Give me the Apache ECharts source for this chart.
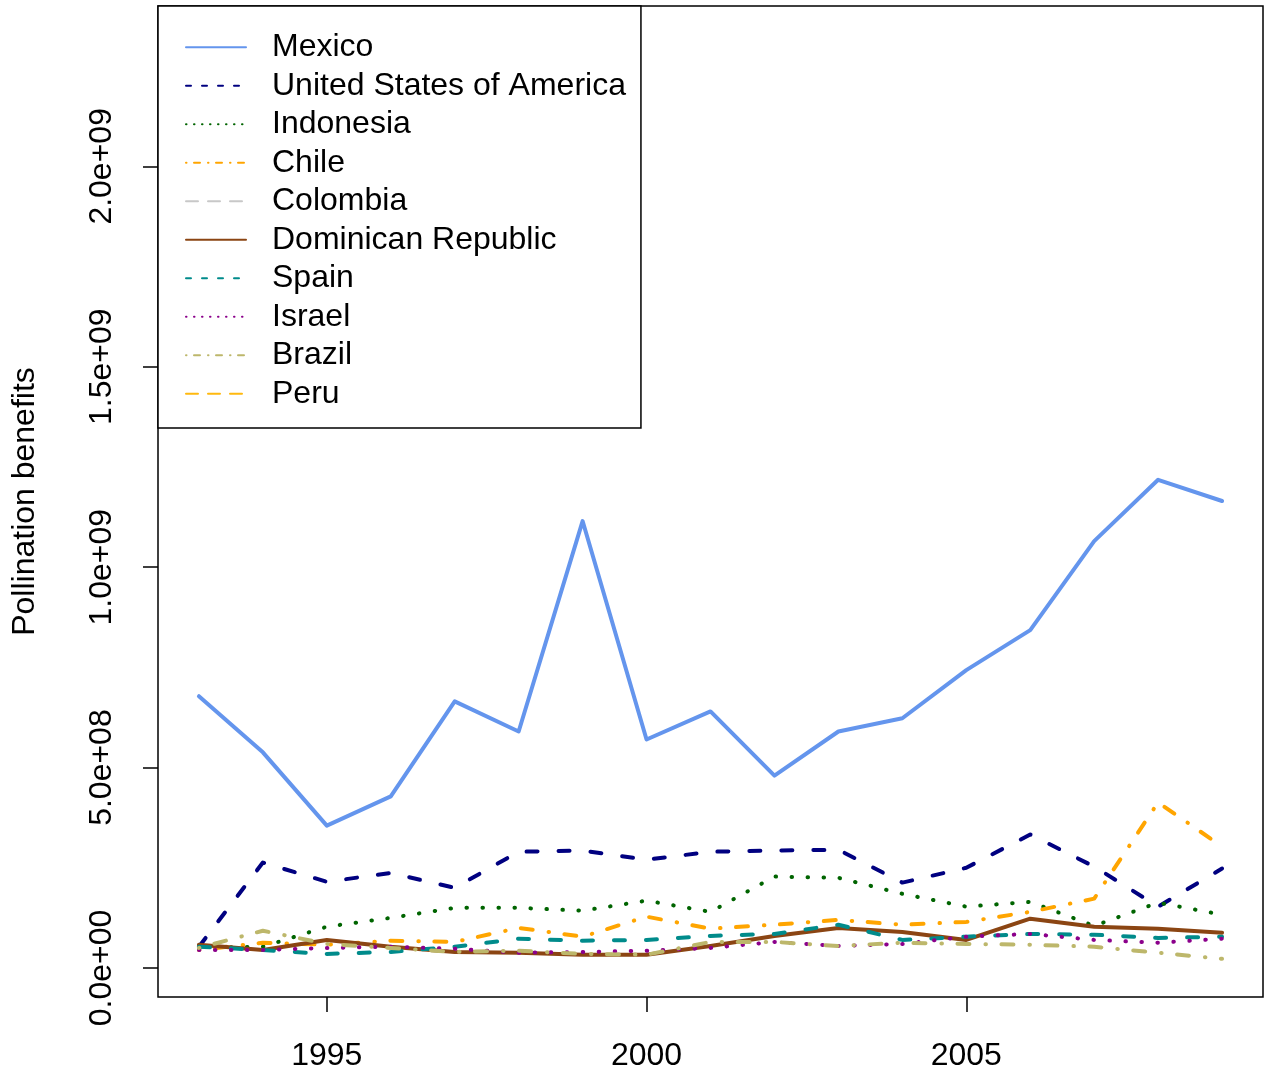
<!DOCTYPE html>
<html>
<head>
<meta charset="utf-8">
<script src="https://cdn.jsdelivr.net/npm/echarts@6/dist/echarts.min.js"></script>
<style>
  html, body { margin: 0; padding: 0; background: #fff; }
  #chart { width: 1271px; height: 1073px; }
</style>
</head>
<body>
<div id="chart"></div>
<script>
// Years on the x axis
const years = [1993, 1994, 1995, 1996, 1997, 1998, 1999, 2000, 2001, 2002, 2003, 2004, 2005, 2006, 2007, 2008, 2009];

// Pollination benefits per country and year
const mexico    = [6.78e8, 5.38e8, 3.55e8, 4.28e8, 6.65e8, 5.90e8, 11.15e8, 5.70e8, 6.40e8, 4.80e8, 5.90e8, 6.23e8, 7.43e8, 8.43e8, 10.65e8, 12.18e8, 11.65e8];
const usa       = [0.53e8, 2.63e8, 2.15e8, 2.37e8, 2.00e8, 2.90e8, 2.93e8, 2.70e8, 2.90e8, 2.93e8, 2.95e8, 2.13e8, 2.50e8, 3.33e8, 2.53e8, 1.53e8, 2.48e8];
const indonesia = [0.50e8, 0.53e8, 1.03e8, 1.25e8, 1.50e8, 1.50e8, 1.43e8, 1.68e8, 1.40e8, 2.28e8, 2.25e8, 1.85e8, 1.53e8, 1.65e8, 1.05e8, 1.63e8, 1.33e8];
const chile     = [0.45e8, 0.63e8, 0.58e8, 0.68e8, 0.65e8, 1.00e8, 0.78e8, 1.28e8, 0.98e8, 1.08e8, 1.20e8, 1.08e8, 1.15e8, 1.40e8, 1.73e8, 4.13e8, 3.03e8];
const colombia  = [null, null, null, null, null, null, null, null, null, null, null, null, null, null, null, null, null];
const dominican = [0.58e8, 0.45e8, 0.70e8, 0.53e8, 0.40e8, 0.38e8, 0.33e8, 0.33e8, 0.55e8, 0.80e8, 1.00e8, 0.90e8, 0.70e8, 1.23e8, 1.03e8, 0.98e8, 0.88e8];
const spain     = [0.53e8, 0.45e8, 0.35e8, 0.40e8, 0.53e8, 0.73e8, 0.68e8, 0.70e8, 0.80e8, 0.85e8, 1.08e8, 0.70e8, 0.78e8, 0.85e8, 0.83e8, 0.75e8, 0.78e8];
const israel    = [0.45e8, 0.45e8, 0.50e8, 0.53e8, 0.48e8, 0.38e8, 0.40e8, 0.43e8, 0.50e8, 0.65e8, 0.55e8, 0.60e8, 0.78e8, 0.85e8, 0.70e8, 0.63e8, 0.73e8];
const brazil    = [0.50e8, 0.93e8, 0.60e8, 0.50e8, 0.40e8, 0.43e8, 0.35e8, 0.33e8, 0.65e8, 0.65e8, 0.55e8, 0.63e8, 0.60e8, 0.58e8, 0.53e8, 0.38e8, 0.23e8];
const peru      = [null, null, null, null, null, null, null, null, null, null, null, null, null, null, null, null, null];

// Axis ticks and their labels
const xTicks = [1995, 2000, 2005];
const yTicks = [0, 5e8, 1e9, 1.5e9, 2e9];
const yTickLabels = ['0.0e+00', '5.0e+08', '1.0e+09', '1.5e+09', '2.0e+09'];

const FONT = 'Liberation Sans, Arial, Helvetica, sans-serif';
const FS = 32;

// Line styles: [name, values, colour, dash pattern in the plot, dash pattern in the legend]
const lineDefs = [
  ['Mexico', mexico, '#6495ED', 'solid', 'solid'],
  ['United States of America', usa, '#000080', [11, 21], [5, 11]],
  ['Indonesia', indonesia, '#006400', [0.5, 15.5], [0.5, 7.5]],
  ['Chile', chile, '#FFA500', [0.5, 15.5, 12, 16], [0.5, 7.5, 6, 8]],
  ['Colombia', colombia, '#C8C8C8', [24, 20], [12, 10]],
  ['Dominican Republic', dominican, '#8B4513', 'solid', 'solid'],
  ['Spain', spain, '#008B8B', [11, 21], [5, 11]],
  ['Israel', israel, '#8B008B', [0.5, 15.5], [0.5, 7.5]],
  ['Brazil', brazil, '#BDB76B', [0.5, 15.5, 12, 16], [0.5, 7.5, 6, 8]],
  ['Peru', peru, '#FFB90F', [24, 20], [12, 10]]
];

const series = lineDefs.map(function (d, i) {
  return {
    name: d[0],
    type: 'line',
    data: years.map(function (y, k) { return [y, d[1][k]]; }),
    symbol: 'none',
    connectNulls: false,
    animation: false,
    z: 2 + i,
    lineStyle: { color: d[2], width: 4, type: d[3], cap: 'round', join: 'round' },
    itemStyle: { color: d[2] }
  };
});

// Legend keys show only the line sample, no marker
const legendData = lineDefs.map(function (d) {
  return {
    name: d[0],
    itemStyle: { opacity: 0 },
    lineStyle: { width: 2, type: d[4], color: d[2] }
  };
});

const chart = echarts.init(document.getElementById('chart'), null, { renderer: 'canvas' });
chart.setOption({
  backgroundColor: '#ffffff',
  animation: false,
  textStyle: { fontFamily: FONT },
  grid: {
    left: 158, top: 6, right: 1271 - 1263, bottom: 1073 - 997,
    show: true, borderColor: '#000', borderWidth: 1.5, backgroundColor: 'transparent',
    containLabel: false
  },
  legend: {
    show: true,
    orient: 'vertical',
    left: 158, top: 6,
    itemWidth: 60, itemHeight: 20, itemGap: 0,
    padding: [22, 15, 15, 27],
    borderColor: '#000', borderWidth: 1.5,
    backgroundColor: '#fff',
    selectedMode: false,
    itemStyle: { opacity: 0 },
    data: legendData,
    textStyle: { fontFamily: FONT, fontSize: FS, color: '#000', lineHeight: 38.5, padding: [0, 0, 0, 21] }
  },
  xAxis: {
    type: 'value',
    min: 1992.36, max: 2009.64,
    splitLine: { show: false },
    axisLine: { show: false, onZero: false },
    axisTick: { show: true, customValues: xTicks, length: 15, lineStyle: { color: '#000', width: 1.5 } },
    axisLabel: {
      customValues: xTicks, margin: 43, color: '#000', fontFamily: FONT, fontSize: FS,
      formatter: function (v) { return String(v); }
    }
  },
  yAxis: {
    type: 'value',
    min: -0.724e8, max: 2.4e9,
    name: 'Pollination benefits',
    nameLocation: 'middle',
    nameRotate: 90,
    nameGap: 117,
    nameTextStyle: { fontFamily: FONT, fontSize: FS, color: '#000' },
    splitLine: { show: false },
    axisLine: { show: false, onZero: false },
    axisTick: { show: true, customValues: yTicks, length: 15, lineStyle: { color: '#000', width: 1.5 } },
    axisLabel: {
      customValues: yTicks, rotate: 90, margin: 40, color: '#000', fontFamily: FONT, fontSize: FS,
      formatter: function (v) {
        const k = yTicks.indexOf(v);
        return k >= 0 ? yTickLabels[k] : '';
      }
    }
  },
  series: series
});
</script>
</body>
</html>
